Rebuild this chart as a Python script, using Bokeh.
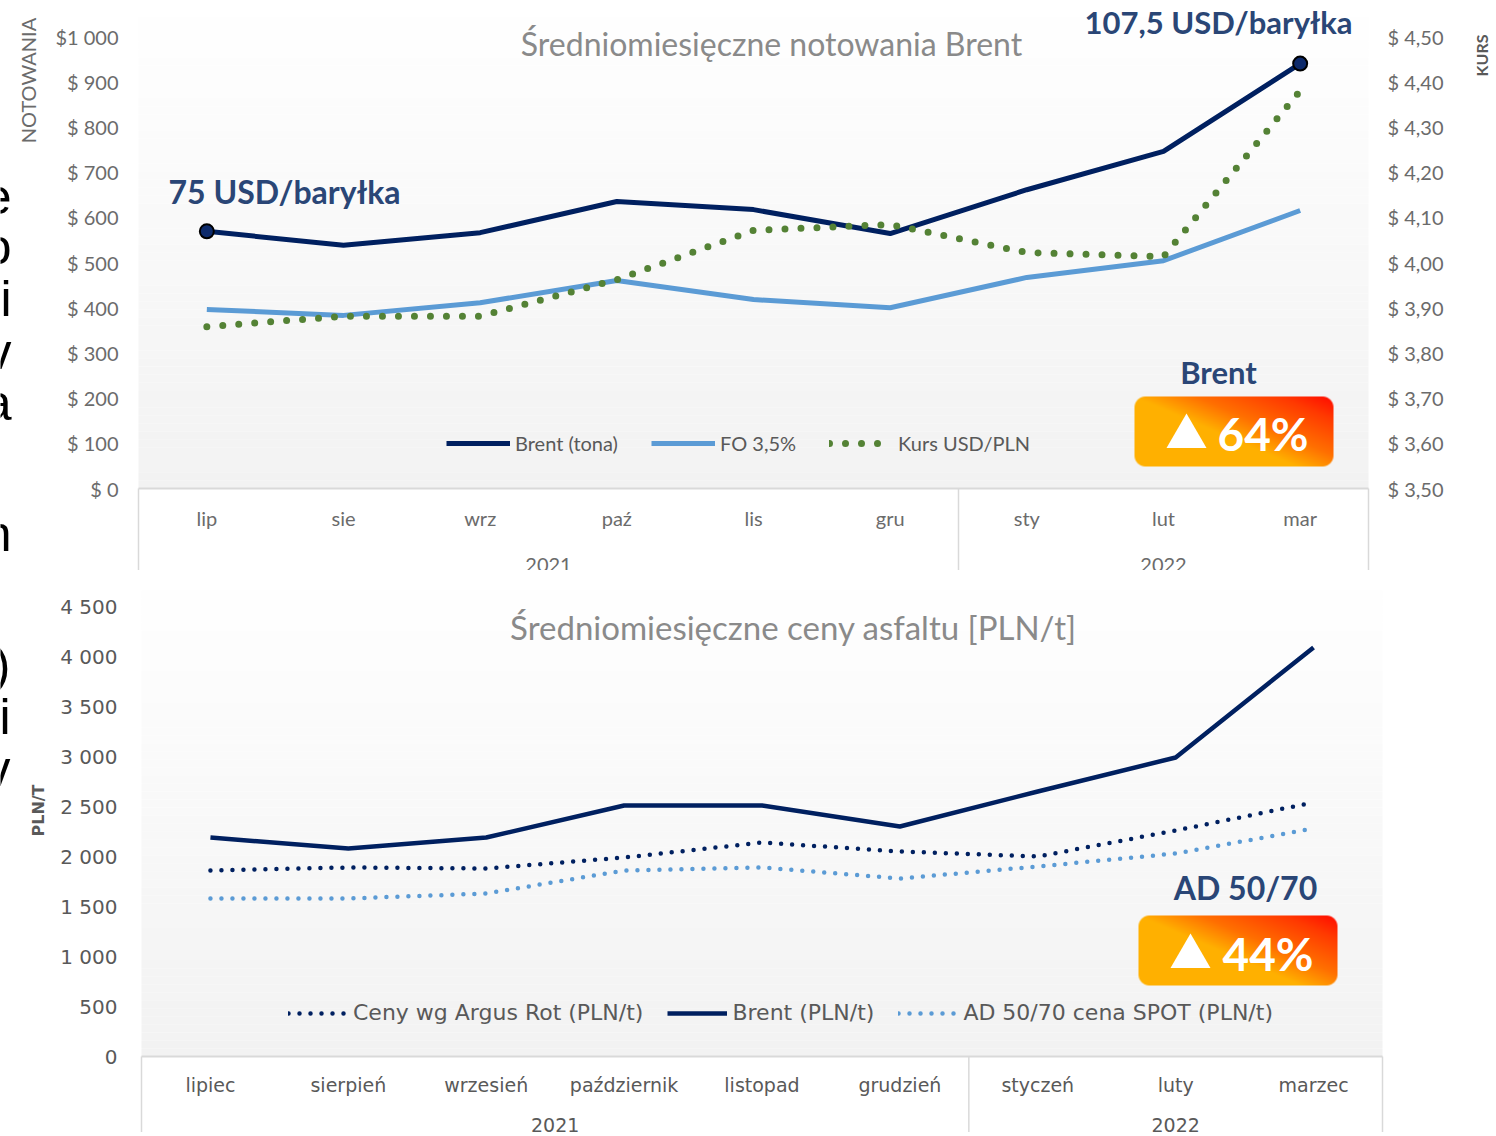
import numpy as np
from bokeh.plotting import figure
from bokeh.layouts import column
from bokeh.models import Range1d, LinearAxis, FixedTicker, Legend, LegendItem
from bokeh.core.properties import value
from bokeh.embed import file_html
from bokeh.resources import INLINE

# ---------------- data ----------------
months_short = ["lip", "sie", "wrz", "paź", "lis", "gru", "sty", "lut", "mar"]
months_full = ["lipiec", "sierpień", "wrzesień", "październik", "listopad",
               "grudzień", "styczeń", "luty", "marzec"]
years = ["2021", "2022"]

brent_tona = [569, 538, 566, 635, 617, 564, 661, 746, 940]
fo_35 = [396, 383, 411, 460, 418, 400, 467, 504, 615]
kurs_usd_pln = [3.858, 3.881, 3.881, 3.962, 4.071, 4.084, 4.022, 4.013, 4.38]

argus_rot = [1860, 1890, 1880, 1990, 2140, 2050, 2000, 2260, 2540]
brent_pln = [2190, 2080, 2190, 2510, 2510, 2300, 2650, 2990, 4090]
ad5070_spot = [1580, 1580, 1630, 1860, 1890, 1780, 1900, 2030, 2280]

top_left_ticks = list(range(0, 1001, 100))
top_left_labels = ["$ 0", "$ 100", "$ 200", "$ 300", "$ 400", "$ 500", "$ 600",
                   "$ 700", "$ 800", "$ 900", "$1 000"]
top_right_ticks = [3.5, 3.6, 3.7, 3.8, 3.9, 4.0, 4.1, 4.2, 4.3, 4.4, 4.5]
top_right_labels = ["$ 3,50", "$ 3,60", "$ 3,70", "$ 3,80", "$ 3,90", "$ 4,00",
                    "$ 4,10", "$ 4,20", "$ 4,30", "$ 4,40", "$ 4,50"]
bot_ticks = list(range(0, 4501, 500))
bot_labels = ["0", "500", "1 000", "1 500", "2 000", "2 500", "3 000", "3 500",
              "4 000", "4 500"]

# cut-off letters of the neighbouring slide text at the left edge
edge_letters_top = ["e", "o", "i", "v", "a", "n"]
edge_letters_bot = [")", "i", "v"]

idx = list(range(len(months_short)))
year_pos = [2.5, 7.0]

# ---------------- layout constants ----------------
W = 1492
H1, H2 = 570, 562
TICK_C = "#6b6b6b"
NAVY = "#002060"
LBLUE = "#5b9bd5"
GREEN = "#548235"
ANN = "#2a4676"
GRID_C = "#d9d9d9"

# top chart geometry (page px)
T_X0, T_X1, T_Y0 = 138.0, 1368.0, 488.0
T_CW = (T_X1 - T_X0) / 9
T_PPU = 0.452        # px per USD
K_PPU = 452.0        # px per 1.0 PLN


def txd(px):
    return (px - T_X0) / T_CW - 0.5


def tyd(py):
    return (T_Y0 - py) / T_PPU


# bottom chart geometry (page px)
B_TOP = H1
B_X0, B_X1, B_Y0 = 141.0, 1382.0, 1056.0
B_CW = (B_X1 - B_X0) / 9
B_PPU = 0.1


def bxd(px):
    return (px - B_X0) / B_CW - 0.5


def byd(py):
    return (B_Y0 - py) / B_PPU


def badge_image(w, h, r):
    yy, xx = np.mgrid[0:h, 0:w]
    xc = xx + 0.5
    yc = yy + 0.5
    s = (xc * 70 + yc * 163) / (w * 70 + h * 163)
    sp = [0.0, 0.45, 0.62, 0.85, 1.0]
    R = np.interp(s, sp, [255, 255, 255, 255, 255])
    G = np.interp(s, sp, [176, 176, 112, 58, 10])
    B = np.interp(s, sp, [0, 0, 0, 0, 0])
    dx = np.maximum(np.maximum(r - xc, xc - (w - r)), 0)
    dy = np.maximum(np.maximum(r - yc, yc - (h - r)), 0)
    d = np.sqrt(dx ** 2 + dy ** 2)
    A = np.clip(r - d + 0.5, 0, 1) * 255
    img = np.empty((h, w), dtype=np.uint32)
    v = img.view(dtype=np.uint8).reshape((h, w, 4))
    v[..., 0] = R
    v[..., 1] = G
    v[..., 2] = B
    v[..., 3] = A
    return img


def base_fig(width, height, xr, yr):
    p = figure(width=width, height=height, x_range=xr, y_range=yr,
               x_axis_type=None, y_axis_type=None, toolbar_location=None,
               output_backend="svg", min_border=0, min_border_left=0,
               min_border_right=0, min_border_top=0, min_border_bottom=0)
    p.outline_line_color = None
    p.background_fill_color = "white"
    p.border_fill_color = "white"
    return p


def style_axis(ax, font, size, color, standoff):
    ax.axis_line_color = None
    ax.major_tick_line_color = None
    ax.minor_tick_line_color = None
    ax.major_tick_out = 0
    ax.major_tick_in = 0
    ax.minor_tick_out = 0
    ax.minor_tick_in = 0
    ax.major_label_text_font = font
    ax.major_label_text_font_size = size
    ax.major_label_text_color = color
    ax.major_label_standoff = standoff


def gradient_quads(p, xd, yd, x0, x1, ytop, ybot, n=60):
    edges = np.linspace(ytop, ybot, n + 1)
    cols = []
    for i in range(n):
        t = (0.5 * (edges[i] + edges[i + 1]) - ytop) / (ybot - ytop)
        g = int(round(255 - t * 13))
        cols.append("#%02x%02x%02x" % (g, g, g))
    p.quad(left=xd(x0), right=xd(x1), top=[yd(e) for e in edges[:-1]],
           bottom=[yd(e) for e in edges[1:]], fill_color=cols, line_color=None)


# ================= TOP CHART =================
p1 = base_fig(W, H1, Range1d(txd(0), txd(W)), Range1d(tyd(H1), tyd(0)))
p1.extra_y_ranges = {"kurs": Range1d(3.5 + (T_Y0 - H1) / K_PPU, 3.5 + T_Y0 / K_PPU)}

gradient_quads(p1, txd, tyd, T_X0, T_X1, 0, T_Y0)

# axis box lines
p1.segment(x0=[txd(T_X0)], y0=[0], x1=[txd(T_X1)], y1=[0], line_color=GRID_C, line_width=2)
p1.segment(x0=[txd(T_X0), 5.5, txd(T_X1)], y0=[0, 0, 0],
           x1=[txd(T_X0), 5.5, txd(T_X1)], y1=[tyd(H1)] * 3,
           line_color=GRID_C, line_width=1.5)

r_brent = p1.line(idx, brent_tona, line_color=NAVY, line_width=5)
r_fo = p1.line(idx, fo_35, line_color=LBLUE, line_width=5)
r_kurs = p1.line(idx, kurs_usd_pln, y_range_name="kurs", line_color=GREEN,
                 line_width=7, line_dash="0 16", line_cap="round")
p1.scatter([idx[0], idx[-1]], [brent_tona[0], brent_tona[-1]], size=14,
           fill_color="#0d2a6b", line_color="black", line_width=2)

# axes
ax = LinearAxis(ticker=FixedTicker(ticks=top_left_ticks),
                major_label_overrides=dict(zip(top_left_ticks, top_left_labels)),
                fixed_location=-0.5)
style_axis(ax, "Lato", "20px", TICK_C, 20)
p1.add_layout(ax, "left")

ax = LinearAxis(y_range_name="kurs", ticker=FixedTicker(ticks=top_right_ticks),
                major_label_overrides=dict(zip(top_right_ticks, top_right_labels)),
                fixed_location=8.5)
style_axis(ax, "Lato", "20px", TICK_C, 19)
p1.add_layout(ax, "right")

ax = LinearAxis(ticker=FixedTicker(ticks=idx),
                major_label_overrides=dict(zip(idx, months_short)), fixed_location=0)
style_axis(ax, "Lato", "20px", TICK_C, 17)
p1.add_layout(ax, "below")

ax = LinearAxis(ticker=FixedTicker(ticks=year_pos),
                major_label_overrides=dict(zip(year_pos, years)), fixed_location=0)
style_axis(ax, "Lato", "20px", TICK_C, 69)
p1.add_layout(ax, "below")

# legend
leg = Legend(items=[LegendItem(label="Brent (tona)", renderers=[r_brent]),
                    LegendItem(label="FO 3,5%", renderers=[r_fo]),
                    LegendItem(label="Kurs USD/PLN", renderers=[r_kurs])],
             orientation="horizontal", location=(446, H1 - 443 - 12),
             glyph_width=64, glyph_height=24, label_height=24, label_standoff=5,
             spacing=33, padding=0, margin=0, background_fill_alpha=0,
             border_line_alpha=0, label_text_font="Lato", label_text_font_size="20px",
             label_text_color="#595959")
p1.add_layout(leg)

# texts
p1.text(x=[txd(771)], y=[tyd(43)], text=["Średniomiesięczne notowania Brent"],
        text_font=value("Lato"), text_font_size="32px", text_color="#8a8a8a",
        text_align="center", text_baseline="middle")
p1.text(x=[txd(284)], y=[tyd(191)], text=["75 USD/baryłka"],
        text_font=value("Lato"), text_font_size="32px", text_font_style="bold",
        text_color=ANN, text_align="center", text_baseline="middle")
p1.text(x=[txd(1218), txd(1218)], y=[tyd(21), tyd(371)],
        text=["107,5 USD/baryłka", "Brent"],
        text_font=value("Lato"), text_font_size="31px", text_font_style="bold",
        text_color=ANN, text_align="center", text_baseline="middle")
p1.text(x=[txd(27)], y=[tyd(80)], text=["NOTOWANIA"], angle=np.pi / 2,
        text_font=value("Lato"), text_font_size="20px", text_color=TICK_C,
        text_align="center", text_baseline="middle")
p1.text(x=[txd(1481)], y=[tyd(55)], text=["KURS"], angle=np.pi / 2,
        text_font=value("Lato"), text_font_size="16px", text_font_style="bold",
        text_color="#595959", text_align="center", text_baseline="middle")
p1.text(x=[txd(11)] * len(edge_letters_top),
        y=[tyd(v) for v in [196, 246, 298, 351, 402, 533]],
        text=edge_letters_top, text_font=value("Liberation Sans"),
        text_font_size="50px", text_color="black",
        text_align="right", text_baseline="middle")

# badge
bw, bh = 199, 70
p1.image_rgba(image=[badge_image(bw, bh, 11)], x=txd(1134), y=tyd(466),
              dw=txd(1134 + bw) - txd(1134), dh=tyd(396) - tyd(466))
p1.scatter([txd(1186)], [tyd(436)], marker="triangle", size=40,
           fill_color="white", line_color=None)
p1.text(x=[txd(1217)], y=[tyd(433)], text=["64%"], text_font=value("Lato"),
        text_font_size="46px", text_font_style="bold", text_color="white",
        text_align="left", text_baseline="middle")

# ================= BOTTOM CHART =================
p2 = base_fig(W, H2, Range1d(bxd(0), bxd(W)), Range1d(byd(B_TOP + H2), byd(B_TOP)))

gradient_quads(p2, bxd, byd, B_X0, B_X1, 574, B_Y0)

p2.segment(x0=[bxd(B_X0)], y0=[0], x1=[bxd(B_X1)], y1=[0], line_color=GRID_C, line_width=2)
p2.segment(x0=[bxd(B_X0), 5.5, bxd(B_X1)], y0=[0, 0, 0],
           x1=[bxd(B_X0), 5.5, bxd(B_X1)], y1=[byd(B_TOP + H2)] * 3,
           line_color=GRID_C, line_width=1.5)

r_arg = p2.line(idx, argus_rot, line_color=NAVY, line_width=4.5,
                line_dash="0 11", line_cap="round")
r_bp = p2.line(idx, brent_pln, line_color=NAVY, line_width=4.5)
r_spot = p2.line(idx, ad5070_spot, line_color=LBLUE, line_width=4.5,
                 line_dash="0 11", line_cap="round")

ax = LinearAxis(ticker=FixedTicker(ticks=bot_ticks),
                major_label_overrides=dict(zip(bot_ticks, bot_labels)), fixed_location=-0.5)
style_axis(ax, "DejaVu Sans", "20px", "#595959", 24)
p2.add_layout(ax, "left")

ax = LinearAxis(ticker=FixedTicker(ticks=idx),
                major_label_overrides=dict(zip(idx, months_full)), fixed_location=0)
style_axis(ax, "DejaVu Sans", "19px", "#595959", 17)
p2.add_layout(ax, "below")

ax = LinearAxis(ticker=FixedTicker(ticks=year_pos),
                major_label_overrides=dict(zip(year_pos, years)), fixed_location=0)
style_axis(ax, "DejaVu Sans", "19px", "#595959", 61)
p2.add_layout(ax, "below")

leg2 = Legend(items=[LegendItem(label="Ceny wg Argus Rot (PLN/t)", renderers=[r_arg]),
                     LegendItem(label="Brent (PLN/t)", renderers=[r_bp]),
                     LegendItem(label="AD 50/70 cena SPOT (PLN/t)", renderers=[r_spot])],
              orientation="horizontal", location=(288, (B_TOP + H2) - 1013 - 12),
              glyph_width=60, glyph_height=24, label_height=24, label_standoff=5,
              spacing=24, padding=0, margin=0, background_fill_alpha=0,
              border_line_alpha=0, label_text_font="DejaVu Sans",
              label_text_font_size="22px", label_text_color="#595959")
p2.add_layout(leg2)

p2.text(x=[bxd(793)], y=[byd(626)], text=["Średniomiesięczne ceny asfaltu [PLN/t]"],
        text_font=value("Lato"), text_font_size="33px", text_color="#8a8a8a",
        text_align="center", text_baseline="middle")
p2.text(x=[bxd(1245)], y=[byd(887)], text=["AD 50/70"],
        text_font=value("Lato"), text_font_size="32px", text_font_style="bold",
        text_color=ANN, text_align="center", text_baseline="middle")
p2.text(x=[bxd(38)], y=[byd(810)], text=["PLN/T"], angle=np.pi / 2,
        text_font=value("DejaVu Sans"), text_font_size="16px", text_font_style="bold",
        text_color="#595959", text_align="center", text_baseline="middle")
p2.text(x=[bxd(10)] * len(edge_letters_bot),
        y=[byd(v) for v in [664, 716, 768]],
        text=edge_letters_bot, text_font=value("Liberation Sans"),
        text_font_size="50px", text_color="black",
        text_align="right", text_baseline="middle")

p2.image_rgba(image=[badge_image(bw, bh, 11)], x=bxd(1138), y=byd(985),
              dw=bxd(1138 + bw) - bxd(1138), dh=byd(915) - byd(985))
p2.scatter([bxd(1190)], [byd(956)], marker="triangle", size=40,
           fill_color="white", line_color=None)
p2.text(x=[bxd(1222)], y=[byd(953)], text=["44%"], text_font=value("Lato"),
        text_font_size="46px", text_font_style="bold", text_color="white",
        text_align="left", text_baseline="middle")

layout = column(p1, p2, spacing=0)
open("out.html", "w").write(file_html(layout, INLINE))
